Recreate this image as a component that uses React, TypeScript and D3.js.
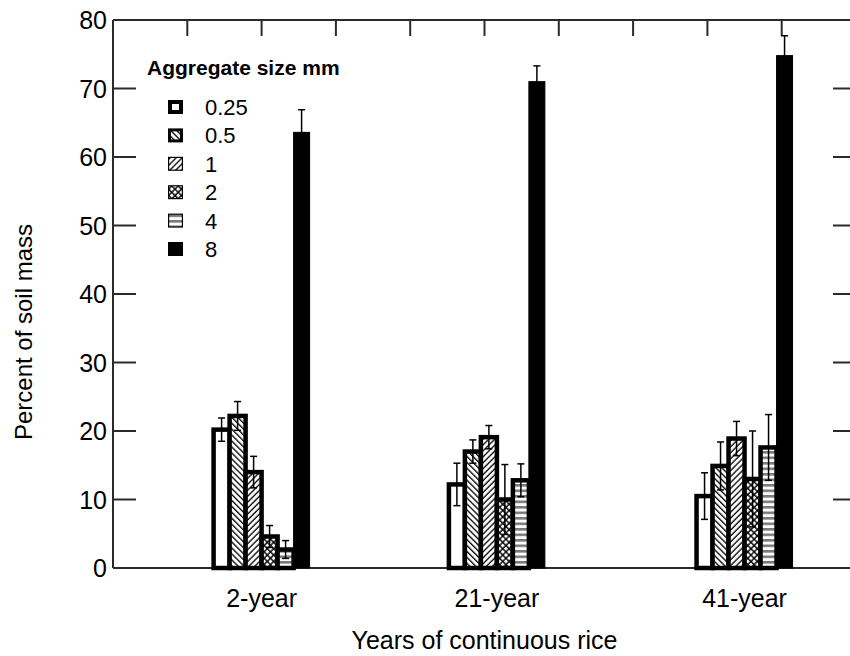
import React from 'react';
import * as d3 from 'd3';

// ---- data ----
const groupLabels = ['2-year', '21-year', '41-year'];
const groupYears = [2, 21, 41];
const sizeLabels = ['0.25', '0.5', '1', '2', '4', '8'];
const size025 = [20.2, 12.2, 10.5];
const size05 = [22.2, 17.0, 14.9];
const size1 = [14.0, 19.1, 18.9];
const size2 = [4.6, 10.0, 13.0];
const size4 = [2.7, 12.8, 17.6];
const size8 = [63.6, 71.0, 74.8];
const err025 = [1.7, 3.1, 3.4];
const err05 = [2.1, 1.7, 3.5];
const err1 = [2.3, 1.7, 2.5];
const err2 = [1.6, 5.1, 7.0];
const err4 = [1.3, 2.4, 4.8];
const err8 = [3.3, 2.3, 2.9];
const yTicks = [0, 10, 20, 30, 40, 50, 60, 70, 80];
const topTickYears = d3.range(-4, 50, 6);

const seriesValues = [size025, size05, size1, size2, size4, size8];
const seriesErrors = [err025, err05, err1, err2, err4, err8];

const W = 850;
const H = 656;
const FONT = "'Liberation Sans', Arial, Helvetica, sans-serif";
const fills = ['#fff', 'url(#pBack)', 'url(#pFwd)', 'url(#pCross)', 'url(#pHoriz)', '#000'];
const legendStroke = [4, 3, 1.2, 1.2, 1.2, 1];

export default function App() {
  const x = d3.scaleLinear().domain([-10, 50]).range([113, 856]);
  const y = d3.scaleLinear().domain([0, 80]).range([568, 20]);
  const barW = 16;
  const n = sizeLabels.length;
  const frame = '#2a2a2a';

  const bars: React.ReactNode[] = [];
  const errs: React.ReactNode[] = [];
  groupYears.forEach((yr, g) => {
    const cx = x(yr);
    seriesValues.forEach((vals, s) => {
      const v = vals[g];
      const e = seriesErrors[s][g];
      const bx = cx + (s - n / 2) * barW;
      bars.push(
        <rect key={`b${g}-${s}`} x={bx} y={y(v)} width={barW} height={y(0) - y(v)}
          fill={fills[s]} stroke="#000" strokeWidth={s === 5 ? 1 : 4.5} strokeLinejoin="miter" />
      );
      const ex = bx + barW / 2;
      errs.push(
        <g key={`e${g}-${s}`} stroke="#000" strokeWidth={1.5}>
          <line x1={ex} x2={ex} y1={y(v + e)} y2={y(v - e)} />
          <line x1={ex - 3.5} x2={ex + 3.5} y1={y(v + e)} y2={y(v + e)} />
          <line x1={ex - 3.5} x2={ex + 3.5} y1={y(v - e)} y2={y(v - e)} />
        </g>
      );
    });
  });

  return (
    <svg width={W} height={H} style={{ position: 'absolute', left: 0, top: 0, background: '#fff' }}
      fontFamily={FONT}>
      <defs>
        <pattern id="pBack" patternUnits="userSpaceOnUse" width={4.2} height={4.2} patternTransform="rotate(45)">
          <rect width={4.2} height={4.2} fill="#fff" />
          <line x1={0} x2={4.2} y1={1} y2={1} stroke="#000" strokeWidth={1.3} />
        </pattern>
        <pattern id="pFwd" patternUnits="userSpaceOnUse" width={4.2} height={4.2} patternTransform="rotate(-45)">
          <rect width={4.2} height={4.2} fill="#fff" />
          <line x1={0} x2={4.2} y1={1} y2={1} stroke="#000" strokeWidth={1.3} />
        </pattern>
        <pattern id="pCross" patternUnits="userSpaceOnUse" width={4.5} height={4.5} patternTransform="rotate(45)">
          <rect width={4.5} height={4.5} fill="#fff" />
          <line x1={0} x2={4.5} y1={1} y2={1} stroke="#000" strokeWidth={1.4} />
          <line x1={1} x2={1} y1={0} y2={4.5} stroke="#000" strokeWidth={1.4} />
        </pattern>
        <pattern id="pHoriz" patternUnits="userSpaceOnUse" width={6} height={5.5}>
          <rect width={6} height={5.5} fill="#fff" />
          <rect y={0} width={6} height={2.6} fill="#7a7a7a" />
        </pattern>
      </defs>

      {/* frame */}
      <g stroke={frame} strokeWidth={2} fill="none">
        <line x1={x(-10)} x2={x(-10)} y1={y(80)} y2={y(0)} />
        <line x1={x(-10)} x2={x(50)} y1={y(80)} y2={y(80)} />
        <line x1={x(-10)} x2={x(50)} y1={y(0)} y2={y(0)} />
        <line x1={x(50)} x2={x(50)} y1={y(80)} y2={y(0)} />
        {yTicks.map((t) => (
          <g key={`yt${t}`}>
            <line x1={x(-10)} x2={x(-10) + 23} y1={y(t)} y2={y(t)} />
            <line x1={x(50)} x2={x(50) - 23} y1={y(t)} y2={y(t)} />
          </g>
        ))}
        {topTickYears.map((t) => (
          <line key={`xt${t}`} x1={x(t)} x2={x(t)} y1={y(80)} y2={y(80) + 16} />
        ))}
      </g>

      {/* y tick labels */}
      {yTicks.map((t) => (
        <text key={`yl${t}`} x={x(-10) - 6} y={y(t) + 9} textAnchor="end" fontSize={25} fill="#000">{t}</text>
      ))}

      {bars}
      {errs}

      {/* category labels */}
      {groupYears.map((yr, g) => (
        <text key={`gl${g}`} x={x(yr)} y={607} textAnchor="middle" fontSize={25} fill="#000">{groupLabels[g]}</text>
      ))}

      {/* axis titles */}
      <text x={(x(-10) + x(50)) / 2} y={649} textAnchor="middle" fontSize={25} fill="#000">Years of continuous rice</text>
      <text transform={`translate(32, ${332}) rotate(-90)`} textAnchor="middle" fontSize={24} fill="#000">Percent of soil mass</text>

      {/* legend */}
      <text x={147} y={75} fontSize={21} fontWeight="bold" fill="#000">Aggregate size mm</text>
      {sizeLabels.map((lab, i) => {
        const ry = 107 + i * 28.4;
        const sw = legendStroke[i];
        return (
          <g key={`lg${i}`}>
            <rect x={168 + sw / 2} y={ry - 7 + sw / 2} width={15 - sw} height={14 - sw}
              fill={fills[i]} stroke="#000" strokeWidth={sw} />
            <text x={205} y={ry + 8} fontSize={22} fill="#000">{lab}</text>
          </g>
        );
      })}
    </svg>
  );
}
